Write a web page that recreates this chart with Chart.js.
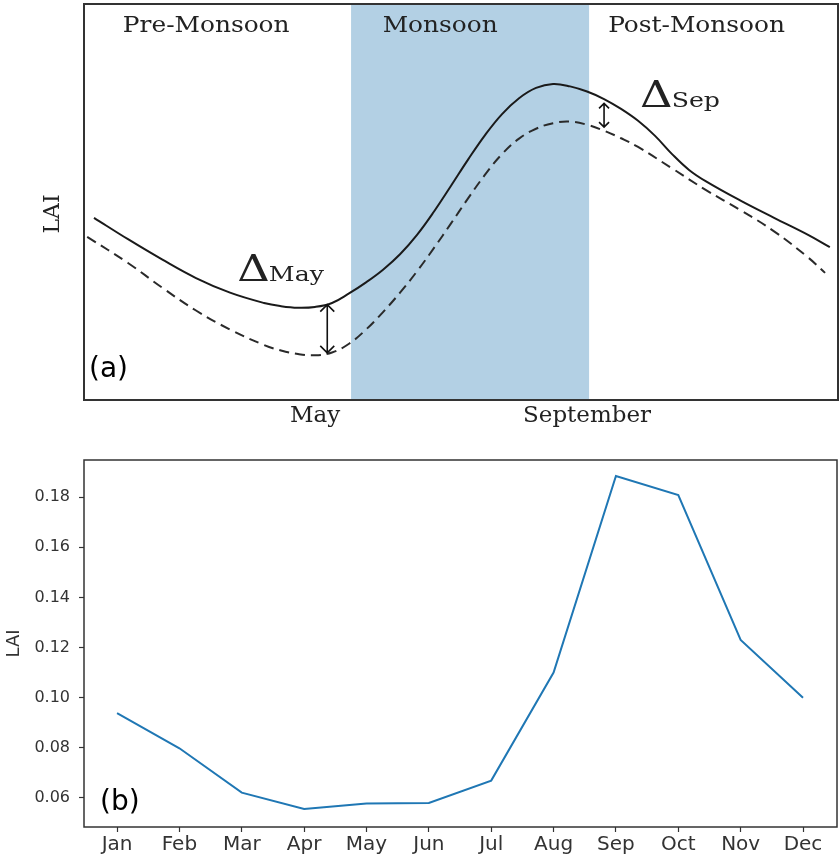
<!DOCTYPE html>
<html>
<head>
<meta charset="utf-8">
<title>LAI seasonal cycle</title>
<script src="https://cdn.jsdelivr.net/npm/chart.js@4.4.1/dist/chart.umd.min.js"></script>
<style>
    body { margin: 0; background: #fff; }
    #wrap { position: relative; width: 840px; height: 859px; }
    #schemeChart { position: absolute; left: 0; top: 0; }
    #laiChart { position: absolute; left: 0; top: 430px; }
</style>
</head>
<body>
<div id="wrap">
    <canvas id="schemeChart" width="840" height="430"></canvas>
    <canvas id="laiChart" width="840" height="429"></canvas>
</div>
<script>
// --------------------
// Panel (a) data: schematic, x in months (5 = May, 9 = September), y in arbitrary LAI units
// --------------------
const solidMonths = [1.75, 2.25, 2.75, 3.25, 3.75, 4.25, 4.5, 4.75, 5.0, 5.25, 5.5, 5.75, 6.0, 6.25, 6.5, 6.75, 7.0, 7.25, 7.5, 7.75, 8.0, 8.25, 8.5, 8.75, 9.0, 9.25, 9.5, 9.75, 10.0, 10.25, 10.5, 10.75, 11.25, 11.75, 12.25, 12.57];
const solidLAI = [46.0, 40.6, 35.5, 30.8, 27.1, 24.5, 23.7, 23.3, 23.5, 24.5, 26.9, 29.7, 32.9, 36.8, 41.7, 47.6, 54.1, 60.7, 66.9, 72.2, 76.2, 78.8, 79.8, 79.2, 77.9, 76.0, 73.5, 70.5, 66.7, 62.1, 58.1, 55.2, 50.4, 46.0, 41.7, 38.6];
const dashedMonths = [1.65, 2.25, 2.75, 3.25, 3.75, 4.25, 4.5, 4.75, 5.0, 5.25, 5.5, 5.75, 6.0, 6.25, 6.5, 6.75, 7.0, 7.25, 7.5, 7.75, 8.0, 8.25, 8.5, 8.75, 9.0, 9.25, 9.5, 9.75, 10.25, 10.75, 11.25, 11.75, 12.25, 12.5];
const dashedLAI = [41.2, 34.6, 28.4, 22.6, 17.8, 13.9, 12.5, 11.6, 11.3, 12.0, 14.2, 17.8, 22.2, 27.1, 32.5, 38.4, 44.6, 50.9, 56.9, 62.1, 66.0, 68.5, 69.9, 70.3, 69.5, 68.0, 66.1, 63.9, 58.5, 53.0, 48.0, 42.6, 36.0, 32.1];

const seasons = ['Pre-Monsoon', 'Monsoon', 'Post-Monsoon'];
const seasonCentres = [3.40, 6.84, 10.61];
const monsoonSpan = [5.53, 9.03];
const schemeTicks = [5, 9];
const schemeTickLabels = ['May', 'September'];

const deltaNames = ['May', 'Sep'];
const deltaMonths = [5.18, 9.25];
const deltaHigh = [24.1, 74.9];
const deltaLow = [11.9, 68.9];

// --------------------
// Panel (b) data: monthly LAI
// --------------------
const months = ['Jan', 'Feb', 'Mar', 'Apr', 'May', 'Jun', 'Jul', 'Aug', 'Sep', 'Oct', 'Nov', 'Dec'];
const laiMonthly = [0.0938, 0.0798, 0.0621, 0.0556, 0.0578, 0.0580, 0.0669, 0.110, 0.1884, 0.1808, 0.123, 0.100];
const laiTicks = [0.06, 0.08, 0.10, 0.12, 0.14, 0.16, 0.18];

Chart.defaults.font.family = "'DejaVu Sans', sans-serif";
Chart.defaults.color = '#333';
Chart.defaults.animation = false;

const serif = "'DejaVu Serif', serif";

function toPoints(xs, ys) {
    return xs.map((x, i) => ({ x: x, y: ys[i] }));
}

function drawFrame(ctx, area, width) {
    ctx.save();
    ctx.strokeStyle = '#333';
    ctx.lineWidth = width;
    ctx.strokeRect(area.left, area.top, area.right - area.left, area.bottom - area.top);
    ctx.restore();
}

// the reference lettering is a little wider than DejaVu Serif, so stretch it sideways
function wideText(ctx, text, x, y, sx) {
    ctx.save();
    ctx.translate(x, y);
    ctx.scale(sx, 1);
    ctx.fillText(text, 0, 0);
    ctx.restore();
    return ctx.measureText(text).width * sx;
}

function drawDoubleArrow(ctx, x, y1, y2, head) {
    ctx.beginPath();
    ctx.moveTo(x, y1);
    ctx.lineTo(x, y2);
    ctx.moveTo(x - head, y1 + head);
    ctx.lineTo(x, y1);
    ctx.lineTo(x + head, y1 + head);
    ctx.moveTo(x - head, y2 - head);
    ctx.lineTo(x, y2);
    ctx.lineTo(x + head, y2 - head);
    ctx.stroke();
}

// shading, frame and annotations for panel (a)
const schemeDecor = {
    id: 'schemeDecor',
    beforeDatasetsDraw(chart) {
        const { ctx, chartArea, scales } = chart;
        const x0 = scales.x.getPixelForValue(monsoonSpan[0]);
        const x1 = scales.x.getPixelForValue(monsoonSpan[1]);
        ctx.save();
        ctx.fillStyle = 'rgb(179, 208, 228)';
        ctx.fillRect(x0, chartArea.top, x1 - x0, chartArea.bottom - chartArea.top);
        ctx.restore();
    },
    afterDraw(chart) {
        const { ctx, chartArea, scales } = chart;
        drawFrame(ctx, chartArea, 2);
        ctx.save();
        ctx.fillStyle = '#222';
        ctx.strokeStyle = '#111';

        // season names
        ctx.font = '23px ' + serif;
        ctx.textAlign = 'center';
        ctx.textBaseline = 'alphabetic';
        seasons.forEach((s, i) => {
            wideText(ctx, s, scales.x.getPixelForValue(seasonCentres[i]), chartArea.top + 28, 1.08);
        });

        // y label
        ctx.save();
        ctx.translate(53, (chartArea.top + chartArea.bottom) / 2 + 12);
        ctx.rotate(-Math.PI / 2);
        ctx.font = '22px ' + serif;
        ctx.textBaseline = 'middle';
        ctx.fillText('LAI', 0, 0);
        ctx.restore();

        // delta arrows and labels
        ctx.lineWidth = 1.6;
        const heads = [7, 5];
        const labelShift = [[-90, -24], [36, 4]];
        deltaNames.forEach((name, i) => {
            const x = scales.x.getPixelForValue(deltaMonths[i]);
            const yHi = scales.y.getPixelForValue(deltaHigh[i]);
            const yLo = scales.y.getPixelForValue(deltaLow[i]);
            drawDoubleArrow(ctx, x, yHi, yLo, heads[i]);

            const lx = x + labelShift[i][0];
            const ly = yHi + labelShift[i][1];
            ctx.textAlign = 'left';
            ctx.font = '37px ' + serif;
            const w = wideText(ctx, '\u0394', lx, ly, 1.22);
            ctx.font = '21px ' + serif;
            wideText(ctx, name, lx + w - 1, ly, 1.2);
        });

        // panel tag
        ctx.fillStyle = '#000';
        ctx.font = '28px DejaVu Sans';
        ctx.textAlign = 'left';
        ctx.fillText('(a)', chartArea.left + 5, chartArea.bottom - 23);
        ctx.restore();
    }
};

const laiDecor = {
    id: 'laiDecor',
    afterDraw(chart) {
        const { ctx, chartArea } = chart;
        drawFrame(ctx, chartArea, 1.5);
        ctx.save();
        ctx.fillStyle = '#000';
        ctx.font = '28px DejaVu Sans';
        ctx.textAlign = 'left';
        ctx.fillText('(b)', chartArea.left + 16, chartArea.bottom - 17);
        ctx.restore();
    }
};

// --------------------
// Render panel (a)
// --------------------
new Chart(document.getElementById('schemeChart'), {
    type: 'line',
    data: {
        datasets: [
            { data: toPoints(solidMonths, solidLAI), borderColor: '#1a1a1a', borderWidth: 2, tension: 0.4, pointRadius: 0 },
            { data: toPoints(dashedMonths, dashedLAI), borderColor: '#2a2a2a', borderWidth: 2, borderDash: [10, 6], tension: 0.4, pointRadius: 0 }
        ]
    },
    options: {
        responsive: false,
        layout: { padding: { left: 84, top: 4, right: 2, bottom: 0 } },
        plugins: { legend: { display: false }, tooltip: { enabled: false } },
        scales: {
            x: {
                type: 'linear',
                min: 1.603,
                max: 12.69,
                grid: { display: false, drawTicks: false },
                border: { display: false },
                afterBuildTicks: (scale) => { scale.ticks = schemeTicks.map(v => ({ value: v })); },
                afterFit: (scale) => { scale.height = 30; },
                ticks: {
                    autoSkip: false,
                    maxRotation: 0,
                    padding: 2,
                    color: '#222',
                    font: { family: serif, size: 23 },
                    callback: (v) => schemeTickLabels[schemeTicks.indexOf(v)]
                }
            },
            y: { display: false, min: 0, max: 100 }
        }
    },
    plugins: [schemeDecor]
});

// --------------------
// Render panel (b)
// --------------------
new Chart(document.getElementById('laiChart'), {
    type: 'line',
    data: {
        datasets: [{
            data: laiMonthly.map((v, i) => ({ x: i, y: v })),
            borderColor: '#1f77b4',
            borderWidth: 2,
            tension: 0,
            pointRadius: 0
        }]
    },
    options: {
        responsive: false,
        layout: { padding: { left: 0, top: 30, right: 3, bottom: 0 } },
        plugins: { legend: { display: false }, tooltip: { enabled: false } },
        scales: {
            x: {
                type: 'linear',
                min: -0.53,
                max: 11.545,
                grid: { drawOnChartArea: false, tickLength: 5, tickColor: '#333', tickWidth: 1.2 },
                border: { display: false },
                afterBuildTicks: (scale) => { scale.ticks = months.map((m, i) => ({ value: i })); },
                afterFit: (scale) => { scale.height = 32; },
                ticks: {
                    autoSkip: false,
                    maxRotation: 0,
                    padding: 1,
                    color: '#333',
                    font: { size: 20 },
                    callback: (v) => months[v]
                }
            },
            y: {
                min: 0.0484,
                max: 0.1948,
                grid: { drawOnChartArea: false, tickLength: 5, tickColor: '#333', tickWidth: 1.2 },
                border: { display: false },
                afterBuildTicks: (scale) => { scale.ticks = laiTicks.map(v => ({ value: v })); },
                afterFit: (scale) => { scale.width = 84; },
                title: { display: true, text: 'LAI', font: { size: 18 }, color: '#333', padding: { top: 4, bottom: 0 } },
                ticks: {
                    padding: 9,
                    color: '#333',
                    font: { size: 16 },
                    callback: (v) => v.toFixed(2)
                }
            }
        }
    },
    plugins: [laiDecor]
});
</script>
</body>
</html>
